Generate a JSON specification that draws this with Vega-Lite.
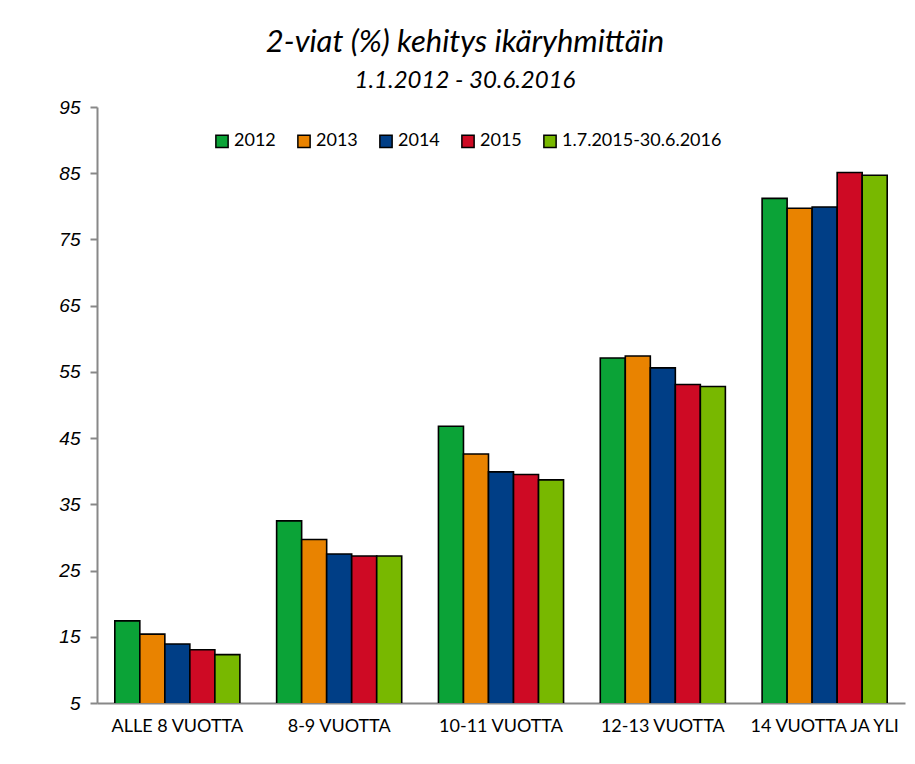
{
  "$schema": "https://vega.github.io/schema/vega-lite/v6.json",
  "autosize": {"type": "none"},
  "width": 808,
  "height": 596,
  "padding": {"left": 97, "top": 107, "right": 10, "bottom": 61},
  "background": "white",
  "title": {
    "text": "2-viat (%) kehitys ikäryhmittäin",
    "subtitle": "1.1.2012 - 30.6.2016",
    "font": "Lato",
    "fontStyle": "italic",
    "fontWeight": "normal",
    "fontSize": 31,
    "color": "#000000",
    "subtitleFont": "Lato",
    "subtitleFontStyle": "italic",
    "subtitleFontSize": 24,
    "subtitleColor": "#000000",
    "subtitlePadding": 10,
    "anchor": "middle",
    "dx": -36,
    "offset": 4
  },
  "data": {
    "values": [
      {"ika": "ALLE 8 VUOTTA", "jakso": "2012", "arvo": 17.4},
      {"ika": "ALLE 8 VUOTTA", "jakso": "2013", "arvo": 15.4},
      {"ika": "ALLE 8 VUOTTA", "jakso": "2014", "arvo": 13.9},
      {"ika": "ALLE 8 VUOTTA", "jakso": "2015", "arvo": 13.05},
      {"ika": "ALLE 8 VUOTTA", "jakso": "1.7.2015-30.6.2016", "arvo": 12.3},
      {"ika": "8-9 VUOTTA", "jakso": "2012", "arvo": 32.5},
      {"ika": "8-9 VUOTTA", "jakso": "2013", "arvo": 29.7},
      {"ika": "8-9 VUOTTA", "jakso": "2014", "arvo": 27.5},
      {"ika": "8-9 VUOTTA", "jakso": "2015", "arvo": 27.2},
      {"ika": "8-9 VUOTTA", "jakso": "1.7.2015-30.6.2016", "arvo": 27.2},
      {"ika": "10-11 VUOTTA", "jakso": "2012", "arvo": 46.8},
      {"ika": "10-11 VUOTTA", "jakso": "2013", "arvo": 42.6},
      {"ika": "10-11 VUOTTA", "jakso": "2014", "arvo": 39.9},
      {"ika": "10-11 VUOTTA", "jakso": "2015", "arvo": 39.5},
      {"ika": "10-11 VUOTTA", "jakso": "1.7.2015-30.6.2016", "arvo": 38.7},
      {"ika": "12-13 VUOTTA", "jakso": "2012", "arvo": 57.1},
      {"ika": "12-13 VUOTTA", "jakso": "2013", "arvo": 57.4},
      {"ika": "12-13 VUOTTA", "jakso": "2014", "arvo": 55.6},
      {"ika": "12-13 VUOTTA", "jakso": "2015", "arvo": 53.1},
      {"ika": "12-13 VUOTTA", "jakso": "1.7.2015-30.6.2016", "arvo": 52.8},
      {"ika": "14 VUOTTA JA YLI", "jakso": "2012", "arvo": 81.2},
      {"ika": "14 VUOTTA JA YLI", "jakso": "2013", "arvo": 79.7},
      {"ika": "14 VUOTTA JA YLI", "jakso": "2014", "arvo": 79.9},
      {"ika": "14 VUOTTA JA YLI", "jakso": "2015", "arvo": 85.1},
      {"ika": "14 VUOTTA JA YLI", "jakso": "1.7.2015-30.6.2016", "arvo": 84.7}
    ]
  },
  "mark": {"type": "bar", "stroke": "#000000", "strokeWidth": 1.6, "clip": true},
  "encoding": {
    "x": {
      "field": "ika",
      "type": "nominal",
      "sort": null,
      "title": null,
      "scale": {"paddingInner": 0.227, "paddingOuter": 0.11},
      "axis": {
        "labelAngle": 0,
        "labelFont": "Lato",
        "labelFontSize": 18,
        "labelColor": "#000000",
        "labelPadding": 14,
        "ticks": false,
        "domainColor": "#888888",
        "domainWidth": 2
      }
    },
    "xOffset": {
      "field": "jakso",
      "type": "nominal",
      "sort": ["2012", "2013", "2014", "2015", "1.7.2015-30.6.2016"],
      "scale": {"paddingInner": 0, "paddingOuter": 0}
    },
    "y": {
      "field": "arvo",
      "type": "quantitative",
      "title": null,
      "scale": {"domain": [5, 95], "nice": false, "zero": false},
      "axis": {
        "values": [5, 15, 25, 35, 45, 55, 65, 75, 85, 95],
        "grid": false,
        "labelFont": "Liberation Sans",
        "labelFontStyle": "italic",
        "labelFontWeight": "normal",
        "labelFontSize": 19,
        "labelColor": "#000000",
        "labelPadding": 10,
        "tickSize": 7,
        "tickColor": "#888888",
        "tickWidth": 2,
        "domainColor": "#888888",
        "domainWidth": 2
      }
    },
    "color": {
      "field": "jakso",
      "type": "nominal",
      "sort": ["2012", "2013", "2014", "2015", "1.7.2015-30.6.2016"],
      "scale": {
        "domain": ["2012", "2013", "2014", "2015", "1.7.2015-30.6.2016"],
        "range": ["#0BA337", "#E98300", "#003E86", "#CE0A24", "#78B800"]
      },
      "legend": {
        "title": null,
        "orient": "none",
        "direction": "horizontal",
        "legendX": 116,
        "legendY": 25,
        "symbolType": "square",
        "symbolSize": 150,
        "symbolStrokeColor": "#000000",
        "symbolStrokeWidth": 1.5,
        "symbolOpacity": 1,
        "labelFont": "Lato",
        "labelFontSize": 18,
        "labelColor": "#000000",
        "labelOffset": 3,
        "columnPadding": 18
      }
    }
  },
  "config": {
    "view": {"stroke": null}
  }
}
